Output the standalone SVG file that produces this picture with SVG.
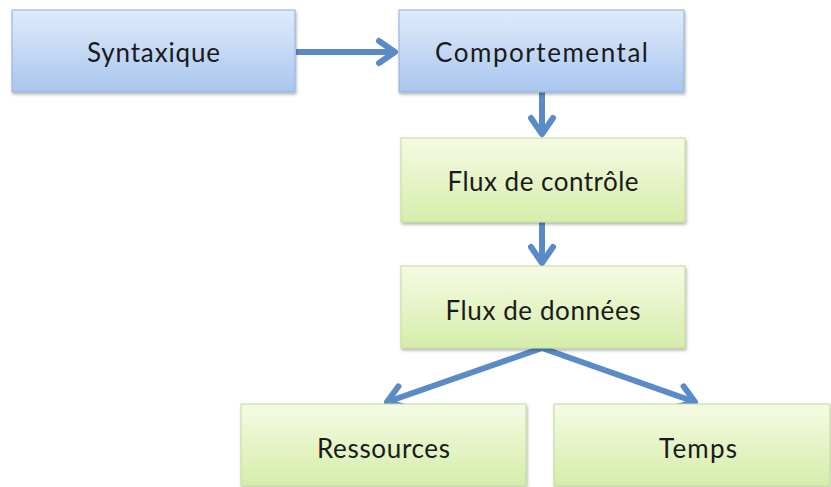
<svg xmlns="http://www.w3.org/2000/svg" width="831" height="487" viewBox="0 0 831 487">
  <defs>
    <linearGradient id="gBlue" x1="0" y1="0" x2="0" y2="1">
      <stop offset="0" stop-color="#e0ebfb"/>
      <stop offset="1" stop-color="#a9c6ef"/>
    </linearGradient>
    <linearGradient id="gGreen" x1="0" y1="0" x2="0" y2="1">
      <stop offset="0" stop-color="#f6fbe4"/>
      <stop offset="1" stop-color="#d5edaa"/>
    </linearGradient>
    <filter id="shadow" x="-5%" y="-10%" width="115%" height="130%">
      <feDropShadow dx="1" dy="2" stdDeviation="1.5" flood-color="#000" flood-opacity="0.3"/>
    </filter>
    <marker id="arrow" markerUnits="userSpaceOnUse" viewBox="-24 -16 30 32" refX="0" refY="0" markerWidth="30" markerHeight="32" orient="auto" overflow="visible">
      <path d="M-16,-11 L0,0 L-16,11" fill="none" stroke="#5a8bc7" stroke-width="6" stroke-linecap="round" stroke-linejoin="round"/>
    </marker>
  </defs>
  <style>
    .blue { fill: url(#gBlue); stroke: #8db0dc; stroke-width: 1; filter: url(#shadow); }
    .green { fill: url(#gGreen); stroke: #c4da98; stroke-width: 1; filter: url(#shadow); }
    .lbl { font-family: "Lato", "Liberation Sans", sans-serif; font-size: 26px; fill: #1a1a1a; text-anchor: middle; }
    .conn { fill: none; stroke: #5a8bc7; stroke-width: 6; marker-end: url(#arrow); }
  </style>
  <rect width="831" height="487" fill="#ffffff"/>

  <g id="connectors">
    <line class="conn" x1="296" y1="52" x2="395" y2="52"/>
    <line class="conn" x1="542" y1="92" x2="542" y2="134"/>
    <line class="conn" x1="542" y1="222" x2="542" y2="263"/>
    <line class="conn" x1="542" y1="348" x2="387" y2="402"/>
    <line class="conn" x1="542" y1="348" x2="695" y2="402"/>
  </g>

  <g id="node-syntaxique">
    <rect class="blue" x="12" y="10" width="283" height="82"/>
    <text class="lbl" x="153.5" y="62" textLength="133">Syntaxique</text>
  </g>
  <g id="node-comportemental">
    <rect class="blue" x="399" y="10" width="285" height="82"/>
    <text class="lbl" x="541.5" y="62" textLength="213">Comportemental</text>
  </g>
  <g id="node-flux-controle">
    <rect class="green" x="401" y="138" width="284" height="84"/>
    <text class="lbl" x="543" y="191" textLength="191">Flux de contrôle</text>
  </g>
  <g id="node-flux-donnees">
    <rect class="green" x="401" y="266" width="284" height="82"/>
    <text class="lbl" x="543" y="320" textLength="195">Flux de données</text>
  </g>
  <g id="node-ressources">
    <rect class="green" x="241" y="404" width="285" height="82"/>
    <text class="lbl" x="383.5" y="458" textLength="133">Ressources</text>
  </g>
  <g id="node-temps">
    <rect class="green" x="554" y="404" width="276" height="82"/>
    <text class="lbl" x="698" y="458" textLength="78">Temps</text>
  </g>
</svg>
